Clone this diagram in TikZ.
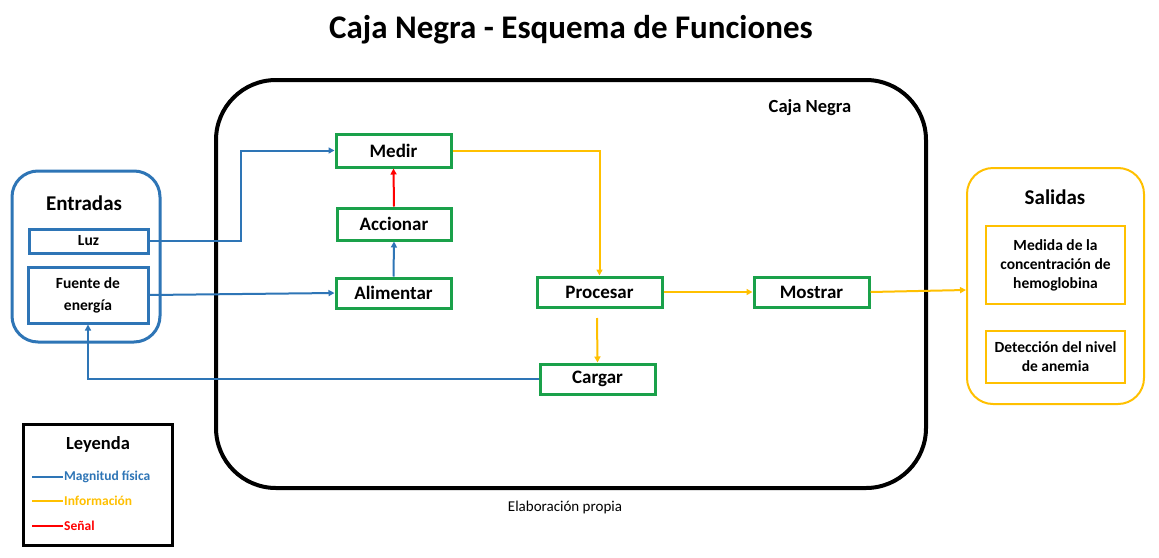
\documentclass[tikz,border=0pt]{standalone}
\usepackage{fontspec}
\setmainfont{Carlito}
\usetikzlibrary{arrows.meta,positioning}
\definecolor{cblue}{HTML}{2E75B6}
\definecolor{cgreen}{HTML}{1AA14A}
\definecolor{cyellow}{HTML}{FFC000}
\definecolor{cred}{HTML}{FF0000}
\tikzset{
  fbox/.style={draw=cgreen,line width=3pt,minimum width=115pt,minimum height=31pt,inner sep=0pt,font=\bfseries\fontsize{19}{21}\selectfont},
  inbox/.style={draw=cblue,line width=3pt,inner sep=0pt,align=center,font=\bfseries\fontsize{15.5}{22}\selectfont},
  outbox/.style={draw=cyellow,line width=2pt,inner sep=0pt,align=center,font=\bfseries\fontsize{15.5}{19}\selectfont},
  tip/.style={-{Triangle[length=6pt,width=6pt]}},
  bl/.style={cblue,line width=2pt},
  yl/.style={cyellow,line width=2pt},
  rl/.style={cred,line width=2pt},
}
\begin{document}
\begin{tikzpicture}[x=1pt,y=-1pt]
\useasboundingbox[fill=white] (0,0) rectangle (1159,557);
% title
\node (title) at (571,30) {\bfseries\fontsize{33}{36}\selectfont Caja Negra - Esquema de Funciones};
% big box
\draw[line width=4pt,rounded corners=60pt] (216,80) rectangle (926,488);
\node (cajalbl) at (810,108) {\bfseries\fontsize{18.5}{20}\selectfont Caja Negra};
% Entradas
\draw[cblue,line width=3pt,rounded corners=26pt] (12,171) rectangle (160,342);
\node (entr) at (84,203) {\bfseries\fontsize{21}{24}\selectfont Entradas};
\node[inbox,minimum width=119pt,minimum height=24pt] (luz) at (88.5,241) {Luz};
\node[inbox,minimum width=120pt,minimum height=56pt] (fuente) at (88,295) {Fuente de\\energía};
% Salidas
\draw[cyellow,line width=2pt,rounded corners=26pt] (967,168) rectangle (1144,404);
\node (sal) at (1055,197) {\bfseries\fontsize{21}{24}\selectfont Salidas};
\node[outbox,minimum width=139pt,minimum height=78pt] (medida) at (1055.5,265) {Medida de la\\concentración de\\hemoglobina};
\node[outbox,minimum width=139pt,minimum height=52pt] (deteccion) at (1055.5,357) {Detección del nivel\\de anemia};
% function boxes
\node[fbox,minimum height=33pt] (medir) at (393.5,150.5) {Medir};
\node[fbox,minimum width=114pt,minimum height=32pt] (accionar) at (394,224) {Accionar};
\node[fbox,minimum height=30pt] (alimentar) at (393.5,293) {Alimentar};
\node[fbox,minimum width=125pt,minimum height=30pt] (procesar) at (599.5,292) {Procesar};
\node[fbox,minimum height=30pt] (mostrar) at (811.5,292) {Mostrar};
\node[fbox,minimum height=30pt] (cargar) at (597.5,379) {Cargar};
% connectors
\draw[bl,tip] (luz.east) -- (241,241) |- (medir.west);
\draw[bl,tip] (fuente.east) -- (alimentar.west);
\draw[bl,tip] (alimentar.north) -- (accionar.south);
\draw[rl,tip] (accionar.north) -- (medir.south);
\draw[yl,tip] (medir.east) -| (procesar.north);
\draw[yl,tip] (procesar.east) -- (mostrar.west);
\coordinate (pdown) at (597,318);
\draw[yl,tip] (pdown) -- (cargar.north);
\draw[bl,tip] (cargar.west) -| (fuente.south);
\coordinate (salin) at (966,290);
\draw[yl,tip] (mostrar.east) -- (salin);
% legend
\draw[line width=3pt] (23,424) rectangle (172,545);
\node (ley) at (98,444) {\bfseries\fontsize{18.5}{20}\selectfont Leyenda};
\coordinate (l1a) at (32,477); \coordinate (l1b) at (63,477);
\coordinate (l2a) at (32,501); \coordinate (l2b) at (63,501);
\coordinate (l3a) at (32,526); \coordinate (l3b) at (63,526);
\draw[cblue,line width=2.6pt] (l1a) -- (l1b);
\draw[cyellow,line width=2.6pt] (l2a) -- (l2b);
\draw[cred,line width=2.6pt] (l3a) -- (l3b);
\node[anchor=west,inner sep=1pt,text=cblue] (lt1) at (l1b) {\bfseries\fontsize{13.5}{15}\selectfont Magnitud física};
\node[anchor=west,inner sep=1pt,text=cyellow] (lt2) at (l2b) {\bfseries\fontsize{13.5}{15}\selectfont Información};
\node[anchor=west,inner sep=1pt,text=cred] (lt3) at (l3b) {\bfseries\fontsize{13.5}{15}\selectfont Señal};
% footer
\node (foot) at (565,507) {\fontsize{15}{17}\selectfont Elaboración propia};
\end{tikzpicture}
\end{document}
